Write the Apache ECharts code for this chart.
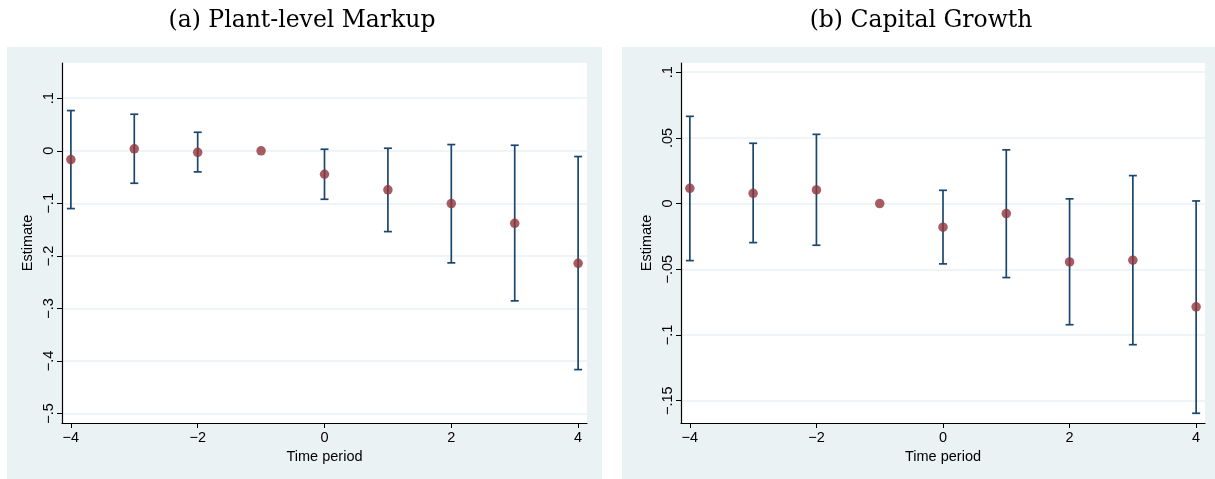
<!DOCTYPE html>
<html>
<head>
<meta charset="utf-8">
<title>Event-study estimates</title>
<script src="https://cdn.jsdelivr.net/npm/echarts@6/dist/echarts.min.js"></script>
<style>
  html, body { margin: 0; padding: 0; background: #ffffff; }
  #chart { width: 1215px; height: 479px; }
</style>
</head>
<body>
<div id="chart"></div>
<script>
// Event time relative to the shock
const periods = [-4, -3, -2, -1, 0, 1, 2, 3, 4];

// (a) Plant-level markup: point estimates and 95% confidence bounds
const markupEst = [-0.0167, 0.0036, -0.0029, 0, -0.0447, -0.0744, -0.1005, -0.1380, -0.2141];
const markupLo  = [-0.110, -0.0618, -0.0402, null, -0.0923, -0.1538, -0.2133, -0.2856, -0.4164];
const markupHi  = [0.0765, 0.0695, 0.0352, null, 0.0029, 0.0048, 0.0118, 0.0105, -0.011];

// (b) Capital growth: point estimates and 95% confidence bounds
const capitalEst = [0.0116, 0.0078, 0.0104, 0, -0.0180, -0.0076, -0.0444, -0.0431, -0.0786];
const capitalLo  = [-0.0434, -0.0297, -0.0317, null, -0.0459, -0.0563, -0.0922, -0.1074, -0.1596];
const capitalHi  = [0.0664, 0.0459, 0.0527, null, 0.0101, 0.0409, 0.0036, 0.0213, 0.0020];

// Tick positions
const xTicks = [-4, -2, 0, 2, 4];
const markupTicks = [0.1, 0, -0.1, -0.2, -0.3, -0.4, -0.5];
const capitalTicks = [0.1, 0.05, 0, -0.05, -0.1, -0.15];

const panelTitles = ['(a) Plant-level Markup', '(b) Capital Growth'];

const NAVY = '#1a476f';
const MAROON = '#90353b';
const PANEL_BG = '#eaf2f3';
const SANS = '"Liberation Sans", Arial, Helvetica, sans-serif';
const SERIF = '"DejaVu Serif", "Liberation Serif", serif';
const FS = 14.5;

// Stata-style numbers: no leading zero, true minus sign
function stataNum(v) {
  if (Math.abs(v) < 1e-9) return '0';
  let s = String(Math.abs(+v.toFixed(4)));
  if (s.startsWith('0.')) s = s.slice(1);
  return (v < 0 ? '\u2212' : '') + s;
}

function ciData(lo, hi) {
  const out = [];
  periods.forEach((p, i) => {
    if (lo[i] !== null && hi[i] !== null) out.push([p, lo[i], hi[i]]);
  });
  return out;
}

function renderErrorBar(params, api) {
  const x = api.value(0);
  const top = api.coord([x, api.value(2)]);
  const bot = api.coord([x, api.value(1)]);
  const half = 4;
  const style = { stroke: NAVY, lineWidth: 1.7, fill: null };
  return {
    type: 'group',
    children: [
      { type: 'line', shape: { x1: top[0], y1: top[1], x2: bot[0], y2: bot[1] }, style },
      { type: 'line', shape: { x1: top[0] - half, y1: top[1], x2: top[0] + half, y2: top[1] }, style },
      { type: 'line', shape: { x1: bot[0] - half, y1: bot[1], x2: bot[0] + half, y2: bot[1] }, style }
    ]
  };
}

function xAxisFor(gridIndex) {
  return {
    type: 'value',
    gridIndex,
    min: -4.14,
    max: 4.14,
    name: 'Time period',
    nameLocation: 'middle',
    nameGap: 26,
    nameTextStyle: { color: '#000', fontFamily: SANS, fontSize: FS },
    axisLine: { show: true, onZero: false, lineStyle: { color: '#000', width: 1.2 } },
    axisTick: { show: true, length: 5, customValues: xTicks, lineStyle: { color: '#000', width: 1 } },
    axisLabel: { customValues: xTicks, color: '#000', fontFamily: SANS, fontSize: FS, margin: 7, formatter: stataNum },
    splitLine: { show: false }
  };
}

function yAxisFor(gridIndex, min, max, ticks) {
  return {
    type: 'value',
    gridIndex,
    min,
    max,
    name: 'Estimate',
    nameLocation: 'middle',
    nameGap: 27,
    nameTextStyle: { color: '#000', fontFamily: SANS, fontSize: FS },
    axisLine: { show: true, onZero: false, lineStyle: { color: '#000', width: 1.2 } },
    axisTick: { show: true, length: 5, customValues: ticks, lineStyle: { color: '#000', width: 1 } },
    axisLabel: { customValues: ticks, rotate: 90, color: '#000', fontFamily: SANS, fontSize: FS, margin: 6, formatter: stataNum },
    splitLine: { show: true, lineStyle: { color: PANEL_BG, width: 1.5 } }
  };
}

const chart = echarts.init(document.getElementById('chart'), null, { renderer: 'canvas' });

chart.setOption({
  animation: false,
  backgroundColor: '#ffffff',
  graphic: [
    { type: 'rect', z: -10, shape: { x: 7, y: 47, width: 595, height: 432 }, style: { fill: PANEL_BG } },
    { type: 'rect', z: -10, shape: { x: 622, y: 47, width: 593, height: 432 }, style: { fill: PANEL_BG } }
  ],
  title: [
    { text: panelTitles[0], left: 297, top: 4, textAlign: 'center',
      textStyle: { fontFamily: SERIF, fontWeight: 'normal', fontSize: 23.5, color: '#000' } },
    { text: panelTitles[1], left: 916, top: 4, textAlign: 'center',
      textStyle: { fontFamily: SERIF, fontWeight: 'normal', fontSize: 23.5, color: '#000' } }
  ],
  grid: [
    { left: 62, top: 63, right: 628, bottom: 56, show: true, backgroundColor: '#ffffff', borderWidth: 0 },
    { left: 681, top: 63, right: 10, bottom: 56, show: true, backgroundColor: '#ffffff', borderWidth: 0 }
  ],
  xAxis: [xAxisFor(0), xAxisFor(1)],
  yAxis: [
    yAxisFor(0, -0.518, 0.167, markupTicks),
    yAxisFor(1, -0.167, 0.107, capitalTicks)
  ],
  series: [
    { type: 'custom', xAxisIndex: 0, yAxisIndex: 0, renderItem: renderErrorBar,
      data: ciData(markupLo, markupHi), z: 2 },
    { type: 'scatter', xAxisIndex: 0, yAxisIndex: 0, symbol: 'circle', symbolSize: 9.5,
      itemStyle: { color: MAROON }, data: periods.map((p, i) => [p, markupEst[i]]), z: 3 },
    { type: 'custom', xAxisIndex: 1, yAxisIndex: 1, renderItem: renderErrorBar,
      data: ciData(capitalLo, capitalHi), z: 2 },
    { type: 'scatter', xAxisIndex: 1, yAxisIndex: 1, symbol: 'circle', symbolSize: 9.5,
      itemStyle: { color: MAROON }, data: periods.map((p, i) => [p, capitalEst[i]]), z: 3 }
  ]
});
</script>
</body>
</html>
